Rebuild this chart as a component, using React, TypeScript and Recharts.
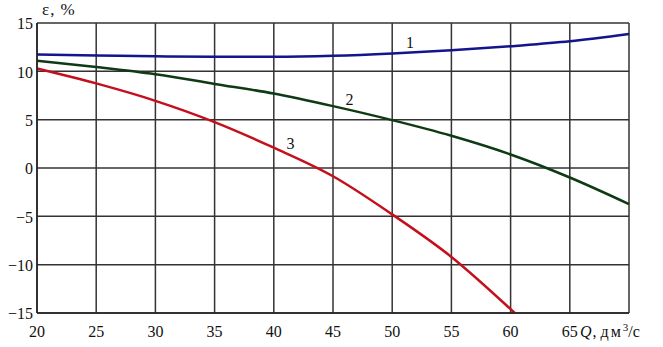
import React from "react";
import {
  LineChart,
  Line,
  XAxis,
  YAxis,
  CartesianGrid,
  ReferenceDot,
  Customized,
} from "recharts";

const qTicks = [20, 25, 30, 35, 40, 45, 50, 55, 60, 65, 70];
const epsTicks = [-15, -10, -5, 0, 5, 10, 15];

const q12 = [20, 25, 30, 35, 40, 45, 50, 55, 60, 65, 70];
const eps1 = [11.75, 11.65, 11.55, 11.5, 11.5, 11.6, 11.84, 12.18, 12.6, 13.1, 13.86];
const eps2 = [11.1, 10.45, 9.7, 8.7, 7.7, 6.4, 4.95, 3.33, 1.4, -0.98, -3.73];

const q3 = [20, 25, 30, 35, 40, 45, 50, 55, 60, 60.4];
const eps3 = [10.3, 8.75, 6.95, 4.75, 2.1, -0.85, -4.8, -9.2, -14.6, -15.05];

const curveLabels = [
  { name: "1", q: 51.5, eps: 13.0 },
  { name: "2", q: 46.4, eps: 7.1 },
  { name: "3", q: 41.4, eps: 2.57 },
];

const data1 = q12.map((q, i) => ({ q, eps: eps1[i] }));
const data2 = q12.map((q, i) => ({ q, eps: eps2[i] }));
const data3 = q3.map((q, i) => ({ q, eps: eps3[i] }));

const FONT = "Liberation Serif, Times New Roman, serif";
const textStyle = { fontFamily: FONT, fontSize: 16 };

const fmtY = (v: number) => (v < 0 ? "\u2212" + Math.abs(v) : String(v));

const XTick = (props: any) => {
  const { x, y, payload } = props;
  if (payload.value === 70) {
    return (
      <text x={x - 49} y={y} dy="0.71em" textAnchor="start" style={textStyle} fill="#111">
        <tspan fontStyle="italic">Q</tspan>
        <tspan dx={1}>,</tspan>
        <tspan dx={4} style={{ letterSpacing: 2 }}>дм</tspan>
        <tspan dy="-6" style={{ fontSize: 11 }}>3</tspan>
        <tspan dy="6">/с</tspan>
      </text>
    );
  }
  return (
    <text x={x} y={y} dy="0.71em" textAnchor="middle" style={textStyle} fill="#111">
      {payload.value}
    </text>
  );
};

const YTick = (props: any) => {
  const { x, y, payload } = props;
  return (
    <text x={x} y={y} dy="0.4em" textAnchor="end" style={textStyle} fill="#111">
      {fmtY(payload.value)}
    </text>
  );
};

const YTitle = () => (
  <text x={42} y={15} style={{ fontFamily: FONT, fontSize: 17 }} fill="#111">
    <tspan>ε</tspan>
    <tspan dx={1}>,</tspan>
    <tspan dx={6}>%</tspan>
  </text>
);

export default function App() {
  return (
    <div style={{ position: "absolute", left: 0, top: 0, background: "#fff", fontFamily: FONT }}>
      <LineChart
        width={663}
        height={347}
        margin={{ top: 23, right: 34, bottom: 0, left: 0 }}
      >
        <CartesianGrid stroke="#333" strokeWidth={1.5} />
        <XAxis
          type="number"
          dataKey="q"
          domain={[20, 70]}
          ticks={qTicks}
          allowDuplicatedCategory={false}
          tick={<XTick />}
          tickLine={false}
          tickSize={0}
          tickMargin={13}
          axisLine={{ stroke: "#222", strokeWidth: 1.5 }}
          height={34}
        />
        <YAxis
          type="number"
          domain={[-15, 15]}
          ticks={epsTicks}
          tick={<YTick />}
          tickLine={false}
          tickSize={0}
          tickMargin={4}
          axisLine={{ stroke: "#222", strokeWidth: 1.5 }}
          width={37}
          allowDataOverflow
        />
        <Line
          data={data1}
          dataKey="eps"
          type="monotone"
          stroke="#14148c"
          strokeWidth={2.5}
          dot={false}
          isAnimationActive={false}
        />
        <Line
          data={data2}
          dataKey="eps"
          type="monotone"
          stroke="#0e3a14"
          strokeWidth={2.5}
          dot={false}
          isAnimationActive={false}
        />
        <Line
          data={data3}
          dataKey="eps"
          type="monotone"
          stroke="#c4101c"
          strokeWidth={2.5}
          dot={false}
          isAnimationActive={false}
        />
        {curveLabels.map((l) => (
          <ReferenceDot
            key={l.name}
            x={l.q}
            y={l.eps}
            r={0}
            fill="none"
            stroke="none"
            label={{ value: l.name, position: "center", style: textStyle, fill: "#111" }}
          />
        ))}
        <Customized component={YTitle} />
      </LineChart>
    </div>
  );
}
